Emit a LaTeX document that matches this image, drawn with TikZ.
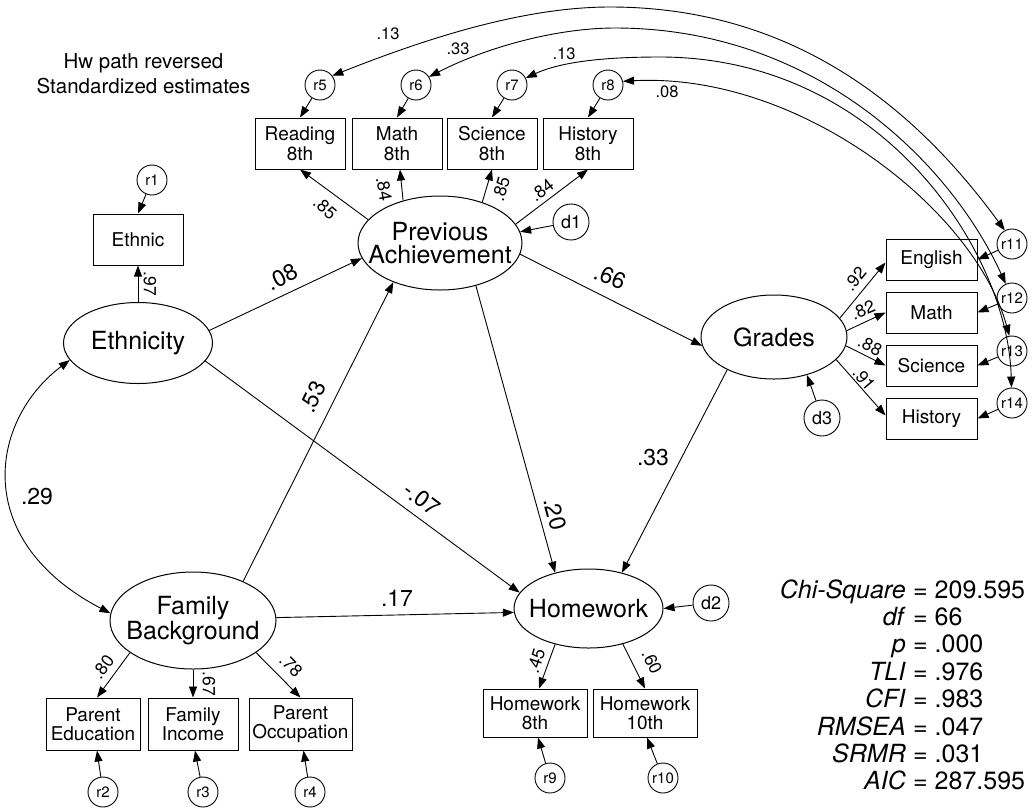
\documentclass[tikz,border=0pt]{standalone}
\usepackage{fontspec}
\setmainfont{TeX Gyre Heros}
\usetikzlibrary{shapes.geometric,arrows.meta}

\begin{document}
\begin{tikzpicture}[x=1pt,y=-1pt,
  lat/.style={ellipse,draw,line width=1pt,inner sep=0pt},
  lattext/.style={font=\fontsize{25}{22.5}\selectfont,align=center,inner sep=0pt},
  obs/.style={rectangle,draw,line width=1pt,inner sep=0pt,align=center,font=\fontsize{19}{19.5}\selectfont},
  err/.style={circle,draw,line width=0.9pt,inner sep=0pt,minimum size=30pt,font=\fontsize{15}{15}\selectfont},
  dst/.style={err,minimum size=36pt,font=\fontsize{18}{18}\selectfont},
  reg/.style={-{Triangle[length=11pt,width=8pt]},line width=0.9pt},
  cov/.style={{Triangle[length=11pt,width=8pt]}-{Triangle[length=11pt,width=8pt]},line width=0.9pt},
  coef/.style={font=\fontsize{23}{23}\selectfont,inner sep=0pt},
  load/.style={font=\fontsize{17.5}{17.5}\selectfont,inner sep=0pt},
  corr/.style={font=\fontsize{16.5}{16.5}\selectfont,inner sep=0pt},
  fitstat/.style={font=\fontsize{25}{25}\selectfont,inner sep=0pt},
  heading/.style={font=\fontsize{20.5}{24.7}\selectfont,inner sep=0pt,anchor=base},
]
\useasboundingbox (0,0) rectangle (1035,807);

% heading
\node[heading] (title1) at (143.5,68.3) {Hw path reversed};
\node[heading] (title2) at (143.5,93) {Standardized estimates};

% latent variables
\node[lat,minimum width=149pt,minimum height=81pt] (Ethnicity) at (138,343) {};
\node[lattext] (EthnicityT) at (Ethnicity.center) {Ethnicity};
\node[lat,minimum width=164pt,minimum height=94pt] (PA) at (440,243) {};
\node[lattext] (PAT) at (PA.center) {Previous\\Achievement};
\node[lat,minimum width=146pt,minimum height=84pt] (Grades) at (774,337) {};
\node[lattext] (GradesT) at (Grades.center) {Grades};
\node[lat,minimum width=166pt,minimum height=97pt] (FB) at (193,620.5) {};
\node[lattext] (FBT) at (FB.center) {Family\\Background};
\node[lat,minimum width=149pt,minimum height=79pt] (Homework) at (588.5,608.5) {};
\node[lattext] (HomeworkT) at (Homework.center) {Homework};

% observed variables
\node[obs,minimum width=90pt,minimum height=51pt] (Ethnic) at (138,239.5) {Ethnic};
\node[obs,minimum width=90pt,minimum height=51pt] (Reading) at (300,143.5) {Reading\\8th};
\node[obs,minimum width=90pt,minimum height=51pt] (Math8) at (397,143.5) {Math\\8th};
\node[obs,minimum width=90pt,minimum height=51pt] (Sci8) at (492,143.5) {Science\\8th};
\node[obs,minimum width=90pt,minimum height=51pt] (Hist8) at (588,143.5) {History\\8th};
\node[obs,minimum width=91pt,minimum height=41pt] (Eng) at (931.5,259.5) {English};
\node[obs,minimum width=91pt,minimum height=41pt] (GMath) at (931.5,312.5) {Math};
\node[obs,minimum width=91pt,minimum height=41pt] (GSci) at (931.5,365.5) {Science};
\node[obs,minimum width=91pt,minimum height=41pt] (GHist) at (931.5,418.5) {History};
\node[obs,minimum width=94pt,minimum height=52pt] (PEd) at (93,724) {Parent\\Education};
\node[obs,minimum width=90pt,minimum height=52pt] (FInc) at (193,724) {Family\\Income};
\node[obs,minimum width=103pt,minimum height=52pt] (POcc) at (300.5,724) {Parent\\Occupation};
\node[obs,minimum width=104pt,minimum height=48pt] (HW8) at (535,713) {Homework\\8th};
\node[obs,minimum width=104pt,minimum height=48pt] (HW10) at (645,713) {Homework\\10th};

% residuals and disturbances
\node[err] (r1) at (152,180) {r1};
\node[err] (r5) at (320,85) {r5};
\node[err] (r6) at (416,85) {r6};
\node[err] (r7) at (512,85) {r7};
\node[err] (r8) at (608,85) {r8};
\node[err] (r11) at (1012,244) {r11};
\node[err] (r12) at (1012,298) {r12};
\node[err] (r13) at (1012,351) {r13};
\node[err] (r14) at (1012,403) {r14};
\node[err] (r2) at (103,792) {r2};
\node[err] (r3) at (203,792) {r3};
\node[err] (r4) at (310,792) {r4};
\node[err] (r9) at (550,778) {r9};
\node[err] (r10) at (663,778) {r10};
\node[dst] (d1) at (571,222) {d1};
\node[dst] (d2) at (711,603) {d2};
\node[dst] (d3) at (822,418) {d3};

% structural paths
\draw[reg] (Ethnicity.10) -- (PA.191);
\draw[reg] (Ethnicity.-15) -- (Homework.167);
\draw[reg] (FB.38) -- (PA.220);
\draw[reg] (FB.2) -- (Homework.183);
\draw[reg] (PA.-8) -- (Grades.187);
\draw[reg] (PA.-50) -- (Homework.133);
\draw[reg] (Grades.215) -- (Homework.47);
\draw[reg] (d1) -- (PA.8);
\draw[reg] (d2) -- (Homework.east);
\draw[reg] (d3) -- (Grades.-49);

% measurement paths
\draw[reg] (Ethnicity.north) -- (Ethnic.south);
\draw[reg] (r1) -- (Ethnic.north);
\draw[reg] (PA.162) -- (Reading.south);
\draw[reg] (PA.131) -- ([xshift=3pt]Math8.south);
\draw[reg] (PA.44) -- (Sci8.south);
\draw[reg] (PA.14) -- (Hist8.south);
\draw[reg] (r5) -- (Reading.north);
\draw[reg] (r6) -- (Math8.north);
\draw[reg] (r7) -- (Sci8.north);
\draw[reg] (r8) -- (Hist8.north);
\draw[reg] (Grades.16) -- ([yshift=-3pt]Eng.west);
\draw[reg] (Grades.5) -- (GMath.west);
\draw[reg] (Grades.-7) -- (GSci.west);
\draw[reg] (Grades.-20) -- ([yshift=3pt]GHist.west);
\draw[reg] (r11) -- (Eng.east);
\draw[reg] (r12) -- (GMath.east);
\draw[reg] (r13) -- (GSci.east);
\draw[reg] (r14) -- (GHist.east);
\draw[reg] (FB.207) -- ([xshift=4pt]PEd.north);
\draw[reg] (FB.south) -- (FInc.north);
\draw[reg] (FB.-27) -- (POcc.north);
\draw[reg] (r2) -- ([xshift=4pt]PEd.south);
\draw[reg] (r3) -- ([xshift=2pt]FInc.south);
\draw[reg] (r4) -- ([xshift=3pt]POcc.south);
\draw[reg] (Homework.227) -- ([xshift=4pt]HW8.north);
\draw[reg] (Homework.-46) -- (HW10.north);
\draw[reg] (r9) -- ([xshift=3pt]HW8.south);
\draw[reg] (r10) -- ([xshift=2pt]HW10.south);

% covariances
\draw[cov] (Ethnicity.194) .. controls (-10,420) and (-30,540) .. (FB.175);
\draw[cov] (r5.37) .. controls (420,41) and (520,7) .. (610,7)
  .. controls (810,7) and (929,127) .. (r11.118);
\draw[cov] (r6.32) .. controls (485,48) and (555,28) .. (615,28)
  .. controls (815,28) and (950,162) .. (r12.114);
\draw[cov] (r7.27) .. controls (565,60) and (615,57) .. (660,57)
  .. controls (880,57) and (1008,250) .. (r14.92);
\draw[cov] (r8.14) .. controls (800,72) and (975,210) .. (r13.100);

% path coefficients
\node[coef,rotate=27] (c1) at (282,277) {.08};
\node[coef,rotate=64] (c2) at (313,397) {.53};
\node[coef,rotate=-37] (c3) at (422,499) {-.07};
\node[coef,rotate=-75] (c4) at (555,514) {.20};
\node[coef] (c5) at (653,458) {.33};
\node[coef,rotate=-22] (c6) at (610,277) {.66};
\node[coef] (c7) at (397,598) {.17};
\node[coef] (c8) at (37,497) {.29};

% loadings
\node[load,rotate=-90] (l1) at (150,284) {.97};
\node[load,rotate=-41] (l2) at (325,208) {.85};
\node[load,rotate=-80] (l3) at (384,189) {.84};
\node[load,rotate=74] (l4) at (501,189) {.85};
\node[load,rotate=37] (l5) at (542,190) {.84};
\node[load,rotate=51] (l6) at (855,279) {.92};
\node[load,rotate=23] (l7) at (863,310) {.82};
\node[load,rotate=-28] (l8) at (870,346) {.88};
\node[load,rotate=-50] (l9) at (864,379) {.91};
\node[load,rotate=53] (l10) at (103,667) {.80};
\node[load,rotate=-90] (l11) at (209,684) {.67};
\node[load,rotate=-46] (l12) at (291,666) {.78};
\node[load,rotate=72] (l13) at (536,661) {.45};
\node[load,rotate=-64] (l14) at (652,662) {.60};

% residual correlations
\node[corr] (k1) at (388,34) {.13};
\node[corr] (k2) at (458,49) {.33};
\node[corr] (k3) at (564,54) {.13};
\node[corr] (k4) at (667,92) {.08};

% fit statistics
\foreach \k/\v [count=\i] in {Chi-Square/209.595,df/66,p/.000,TLI/.976,CFI/.983,RMSEA/.047,SRMR/.031,AIC/287.595}{
  \node[fitstat,anchor=base east] (key\i) at (906,{598+27.4*(\i-1)}) {\textit{\k}};
  \node[fitstat,anchor=base west] (val\i) at (906,{598+27.4*(\i-1)}) {\ = \v};
}
\end{tikzpicture}
\end{document}
